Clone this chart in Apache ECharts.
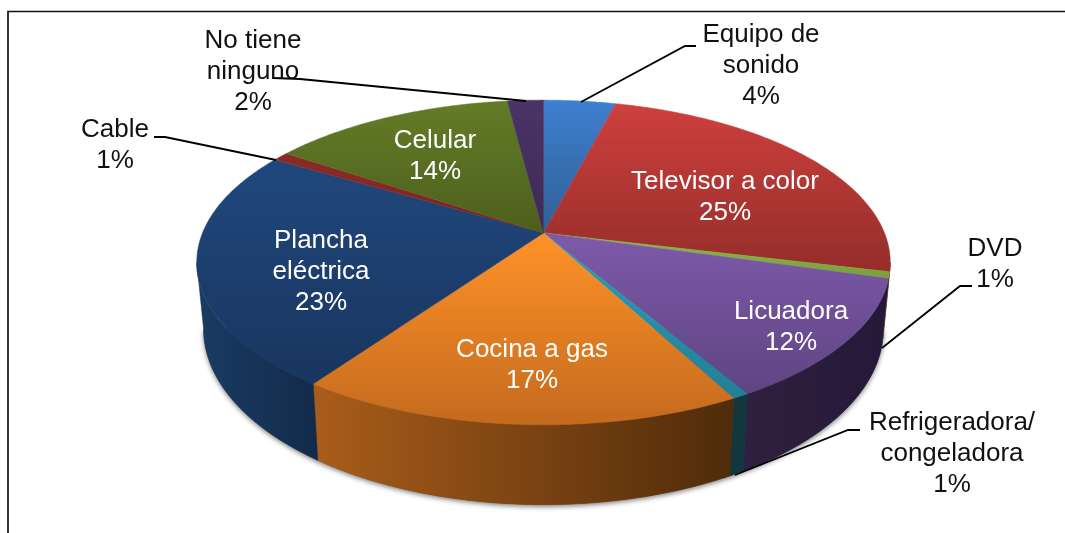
<!DOCTYPE html>
<html>
<head>
<meta charset="utf-8">
<style>
html,body{margin:0;padding:0;background:#fff;}
#main{width:1065px;height:533px;}
</style>
<script src="https://cdn.jsdelivr.net/npm/echarts@6/dist/echarts.min.js"></script>
</head>
<body>
<div id="main"></div>
<script>
// datos
var categories = ['Equipo de\nsonido', 'Televisor a color', 'DVD', 'Licuadora', 'Refrigeradora/\ncongeladora',
    'Cocina a gas', 'Plancha\neléctrica', 'Cable', 'Celular', 'No tiene\nninguno'];
var percentLabels = ['4%', '25%', '1%', '12%', '1%', '17%', '23%', '1%', '14%', '2%'];
// tamano real de cada rebanada (las etiquetas estan redondeadas)
var sliceShares = [4.0, 24.8, 0.65, 12.15, 0.65, 17.5, 23.75, 0.9, 13.6, 2.0];

var topColors = [['#3e7fcf', '#2f6095'], ['#ce403d', '#942d2a'], ['#8fb84a', '#7a9e3b'], ['#7e5aaa', '#5f4482'],
    ['#2a9fb8', '#237f96'], ['#ff9228', '#c46a1e'], ['#20487d', '#19355f'], ['#8c2b28', '#7a2420'],
    ['#647c27', '#4c5f1d'], ['#4b3366', '#3e2a55']];
var wallColors = [['#23497a', '#23497a'], ['#5a1c1a', '#5a1c1a'], ['#55702a', '#55702a'], ['#30203f', '#251838'],
    ['#12373f', '#12373f'], ['#aa5d1a', '#4f2b0a'], ['#1a3b64', '#132b4a'], ['#5a1a18', '#5a1a18'],
    ['#3c4a16', '#3c4a16'], ['#2e2040', '#2e2040']];

// donde va cada etiqueta: [x, y, color]
var labelPlaces = [[761, 65.5, '#111'], [725, 197, '#fff'], [995, 264, '#111'], [791, 327, '#fff'], [952, 454, '#111'],
    [532, 365, '#fff'], [321, 272, '#fff'], [115, 145, '#111'], [435, 156.5, '#fff'], [253, 71.5, '#111']];
var leaderLines = [
    [[696, 46], [685, 46], [581, 102]],
    [[972, 286], [960, 286], [882, 348]],
    [[860, 430], [848, 430], [735, 475]],
    [[154, 137], [165, 137], [276, 160]],
    [[273, 78], [300, 79], [526, 101]]
];

// perspectiva del disco
var centerX = 543.5, tilt = 0.1815;
var topDisc = {rx: 341, ry: 157, cy: 233};
var bottomDisc = {rx: 334.3, ry: 170, cy: 297};
// la pared solo se ve entre los dos puntos mas anchos del disco
var wallFrom = Math.acos(-tilt) * 180 / Math.PI, wallTo = 360 - wallFrom;

function project(deg, disc) {
    var a = deg * Math.PI / 180;
    var u = Math.sin(a), v = -Math.cos(a), w = 1 - tilt * v;
    return [centerX + disc.rx * u / w, disc.cy + disc.ry * v / w];
}
function arcPoints(from, to, disc) {
    var pts = [], n = Math.max(2, Math.ceil((to - from) * 2));
    for (var i = 0; i <= n; i++) {
        pts.push(project(from + (to - from) * i / n, disc));
    }
    return pts;
}

var started = [];
var total = 0;
for (var i = 0; i < sliceShares.length; i++) {
    started.push(total);
    total += sliceShares[i];
}
var seriesData = sliceShares.map(function (s, i) {
    return {name: categories[i], value: [started[i], s]};
});

function sliceAngles(api) {
    var from = api.value(0) / total * 360;
    return [from, from + api.value(1) / total * 360];
}

function renderShadow(params) {
    if (params.dataIndex !== 0) return;
    return {
        type: 'polygon',
        shape: {points: arcPoints(wallFrom, wallTo, bottomDisc)},
        style: {fill: '#555', shadowBlur: 5, shadowColor: 'rgba(0,0,0,0.5)', shadowOffsetY: 2}
    };
}
function renderWall(params, api) {
    var ang = sliceAngles(api);
    var from = Math.max(ang[0], wallFrom), to = Math.min(ang[1], wallTo);
    if (to <= from) return;
    var c = wallColors[params.dataIndex];
    var pts = arcPoints(from, to, topDisc).concat(arcPoints(from, to, bottomDisc).reverse());
    var fill = new echarts.graphic.LinearGradient(0, 0, 1, 0, [{offset: 0, color: c[0]}, {offset: 1, color: c[1]}]);
    return {type: 'polygon', shape: {points: pts}, style: {fill: fill, stroke: fill, lineWidth: 0.5}};
}
function renderTop(params, api) {
    var ang = sliceAngles(api);
    var c = topColors[params.dataIndex];
    var pts = [[centerX, topDisc.cy]].concat(arcPoints(ang[0], ang[1], topDisc));
    var fill = new echarts.graphic.LinearGradient(0, 0, 0, 1, [{offset: 0, color: c[0]}, {offset: 1, color: c[1]}]);
    return {type: 'polygon', shape: {points: pts}, style: {fill: fill, stroke: fill, lineWidth: 0.5}};
}

var graphics = [
    {type: 'polyline', shape: {points: [[8, 533], [8, 11.5], [1065, 11.5]]}, style: {fill: null, stroke: '#111', lineWidth: 1.7}, z: 10}
];
leaderLines.forEach(function (pts) {
    graphics.push({type: 'polyline', shape: {points: pts}, style: {fill: null, stroke: '#000', lineWidth: 1.8}, z: 10});
});
categories.forEach(function (name, i) {
    graphics.push({
        type: 'text', x: labelPlaces[i][0], y: labelPlaces[i][1], z: 11,
        style: {
            text: name + '\n' + percentLabels[i],
            fill: labelPlaces[i][2],
            font: '26px "Liberation Sans", Arial, sans-serif',
            lineHeight: 31,
            align: 'center',
            verticalAlign: 'middle'
        }
    });
});

var chart = echarts.init(document.getElementById('main'));
chart.setOption({
    animation: false,
    backgroundColor: '#fff',
    graphic: {elements: graphics},
    series: [
        {type: 'custom', coordinateSystem: 'none', renderItem: renderShadow, data: seriesData, z: 1, silent: true},
        {type: 'custom', coordinateSystem: 'none', renderItem: renderWall, data: seriesData, z: 2, silent: true},
        {type: 'custom', coordinateSystem: 'none', renderItem: renderTop, data: seriesData, z: 3, silent: true}
    ]
});
</script>
</body>
</html>
